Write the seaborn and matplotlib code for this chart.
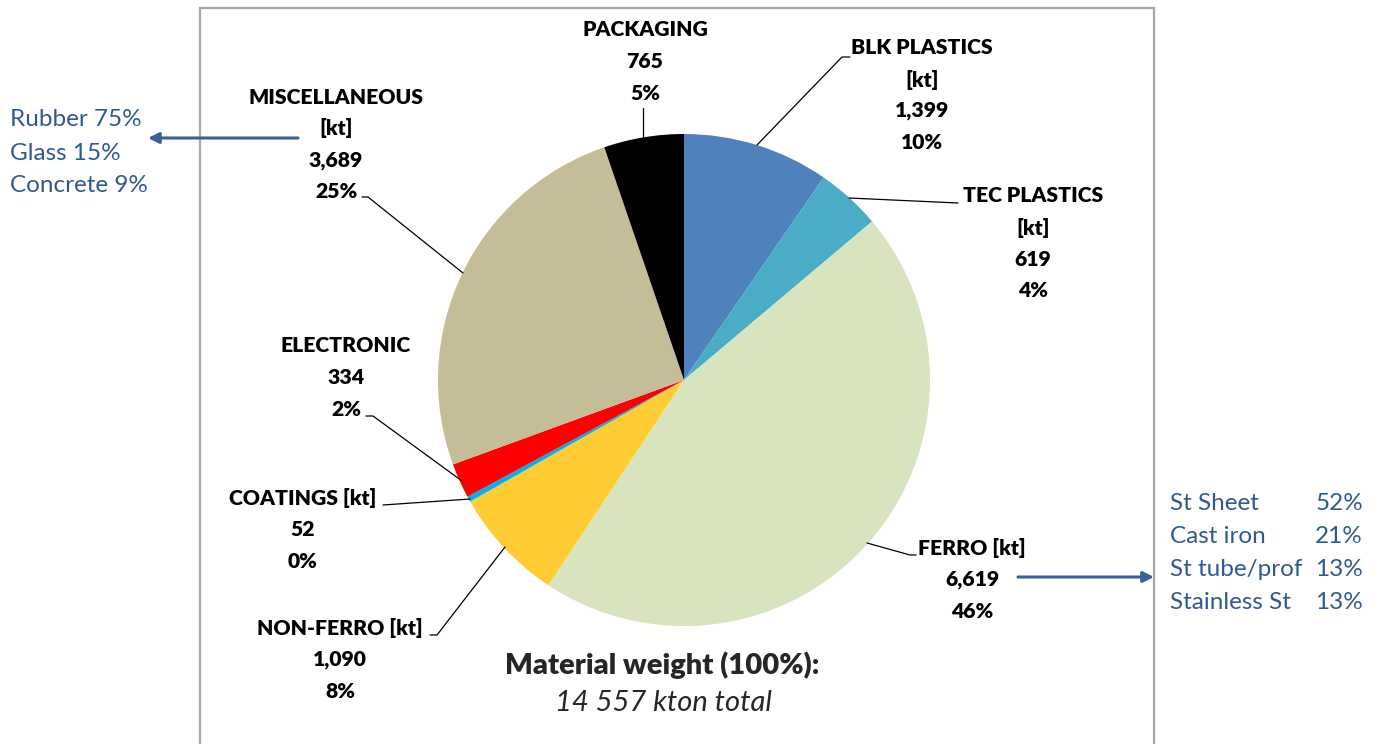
import matplotlib
matplotlib.use("Agg")
import matplotlib.pyplot as plt
import seaborn as sns

# ---- data ----
categories = ["BLK PLASTICS", "TEC PLASTICS", "FERRO", "NON-FERRO",
              "COATINGS", "ELECTRONIC", "MISCELLANEOUS", "PACKAGING"]
label_titles = ["BLK PLASTICS\n[kt]", "TEC PLASTICS\n[kt]", "FERRO [kt]", "NON-FERRO [kt]",
                "COATINGS [kt]", "ELECTRONIC", "MISCELLANEOUS\n[kt]", "PACKAGING"]
values = [1399, 619, 6619, 1090, 52, 334, 3689, 765]
shares = [10, 4, 46, 8, 0, 2, 25, 5]
colors = ["#4F81BD", "#4BACC6", "#D7E4BD", "#FFCD33",
          "#00B0F0", "#FF0000", "#C4BD97", "#000000"]

misc_names = ["Rubber 75%", "Glass 15%", "Concrete 9%"]
ferro_names = ["St Sheet", "Cast iron", "St tube/prof", "Stainless St"]
ferro_shares = ["52%", "21%", "13%", "13%"]
title_main = "Material weight (100%):"
title_sub = "14 557 kton total"

# ---- style ----
sns.set_theme(style="white")
plt.rcParams["font.family"] = ["Lato", "DejaVu Sans"]

H = 744
def Y(y):
    return H - y

fig = plt.figure(figsize=(13.84, 7.44), dpi=100)
ax = fig.add_axes([0, 0, 1, 1])
ax.pie(values, colors=colors, startangle=90, counterclock=False,
       center=(684, Y(380)), radius=246, wedgeprops=dict(linewidth=0))
ax.set_xlim(0, 1384)
ax.set_ylim(0, 744)
ax.set_aspect("equal")
ax.axis("off")

# plot-area border
ax.plot([200, 200, 1154, 1154], [-5, Y(8), Y(8), -5], color="#A6A6A6", lw=1.6,
        solid_joinstyle="miter", zorder=1)

# data labels
label_pos = [(922, 48), (1033, 196), (972, 548), (340, 628),
             (303, 498), (346, 346), (336, 97), (645, 30)]
leaders = [
    [(757, 145), (842, 57), (850, 57)],
    [(849, 198), (958, 203)],
    [(867, 543), (910, 555), (916, 555)],
    [(505, 547), (437, 635), (430, 635)],
    [(470, 499), (383, 505)],
    [(462, 481), (373, 416), (366, 416)],
    [(463, 273), (368, 197), (362, 197)],
    [(643, 138), (643, 108)],
]
for title, v, p, (x0, y0), pts in zip(label_titles, values, shares, label_pos, leaders):
    lines = title.split("\n") + [f"{v:,}", f"{p}%"]
    for i, ln in enumerate(lines):
        ax.text(x0, Y(y0 + i * 31.5), ln, ha="center", va="center",
                fontsize=15.2, fontweight="heavy", color="black")
    ax.plot([q[0] for q in pts], [Y(q[1]) for q in pts], color="black", lw=0.9)

# side annotations
blue = "#2E5A94"
for i, t in enumerate(misc_names):
    ax.text(10, Y(120 + i * 33), t, ha="left", va="center", fontsize=17.5, color=blue)
for i, (n, s) in enumerate(zip(ferro_names, ferro_shares)):
    yy = Y(503 + i * 33.3)
    ax.text(1170, yy, n, ha="left", va="center", fontsize=17.5, color=blue)
    ax.text(1363, yy, s, ha="right", va="center", fontsize=17.5, color=blue)

arrow_kw = dict(arrowstyle="-|>", color="#3A6097", lw=2.2, mutation_scale=16,
                shrinkA=0, shrinkB=0)
ax.annotate("", xy=(148, Y(138)), xytext=(298, Y(138)), arrowprops=arrow_kw)
ax.annotate("", xy=(1154, Y(577)), xytext=(1018, Y(577)), arrowprops=arrow_kw)

# bottom titles
ax.text(662, Y(665), title_main, ha="center", va="center", fontsize=21, fontweight="heavy")
ax.text(663, Y(703), title_sub, ha="center", va="center", fontsize=21, fontstyle="italic")

fig.savefig("out.png", dpi=100)
